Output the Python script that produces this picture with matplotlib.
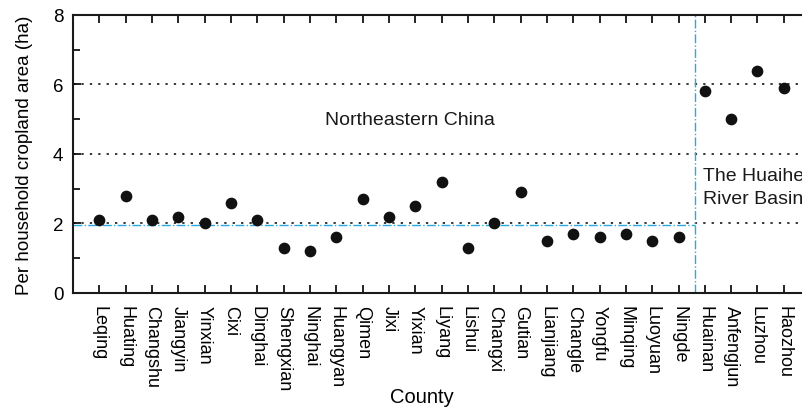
# Libraries
import numpy as np
import matplotlib.pyplot as plt
from matplotlib.ticker import MultipleLocator

plt.rcParams['font.family'] = ['Liberation Sans', 'DejaVu Sans']

# Data
counties = ['Leqing', 'Huating', 'Changshu', 'Jiangyin', 'Yinxian', 'Cixi', 'Dinghai',
            'Shengxian', 'Ninghai', 'Huangyan', 'Qimen', 'Jixi', 'Yixian', 'Liyang',
            'Lishui', 'Changxi', 'Gutian', 'Lianjiang', 'Changle', 'Yongfu', 'Minqing',
            'Luoyuan', 'Ningde', 'Huainan', 'Anfengjun', 'Luzhou', 'Haozhou']
area = [2.1, 2.8, 2.1, 2.2, 2.0, 2.6, 2.1, 1.3, 1.2, 1.6, 2.7, 2.2, 2.5, 3.2,
        1.3, 2.0, 2.9, 1.5, 1.7, 1.6, 1.7, 1.5, 1.6, 5.8, 5.0, 6.4, 5.9]
ne_mean = 1.95
divider = 22.62
ref_levels = [2, 4, 6]

# Figure
fig = plt.figure(figsize=(8.03, 4.10), dpi=100)
ax = fig.add_axes([0.0909, 0.283, 0.918, 0.678])
x = np.arange(len(counties))

for lv in ref_levels:
    ax.axhline(lv, color='black', lw=1.1, ls=(0, (1.5, 4)), zorder=1)
ax.plot([-1, divider], [ne_mean, ne_mean], color='#29a9df', lw=1.0, ls='-.', zorder=2)
ax.axvline(divider, color='#29a9df', lw=1.0, ls='-.', zorder=2)
ax.scatter(x, area, s=55, color='#111111', zorder=3)

ax.text(11.8, 4.98, 'Northeastern China', fontsize=14, ha='center', va='center', color='#1a1a1a')
ax.text(22.92, 3.06, 'The Huaihe\nRiver Basin', fontsize=14, ha='left', va='center',
        color='#1a1a1a', linespacing=1.45)

ax.set_xlim(-1, 27)
ax.set_ylim(0, 8)
ax.set_xticks(x)
ax.set_xticklabels(counties, rotation=-90, fontsize=13)
ax.yaxis.set_major_locator(MultipleLocator(2))
ax.yaxis.set_minor_locator(MultipleLocator(1))
ax.tick_params(axis='both', which='both', direction='in', top=True, right=True, width=1.2)
ax.tick_params(axis='x', length=6, pad=9)
ax.tick_params(axis='y', which='major', length=6, labelsize=13.5, pad=7)
ax.tick_params(axis='y', which='minor', length=5)
for sp in ax.spines.values():
    sp.set_linewidth(1.5)
    sp.set_color('#1a1a1a')
ax.set_xlabel('County', fontsize=14.5)
ax.xaxis.label.set_va('center')
ax.xaxis.set_label_coords(0.4736, -0.374)
ax.set_ylabel('Per household cropland area (ha)', fontsize=13.5, labelpad=14)

fig.savefig('out.png', dpi=100)
